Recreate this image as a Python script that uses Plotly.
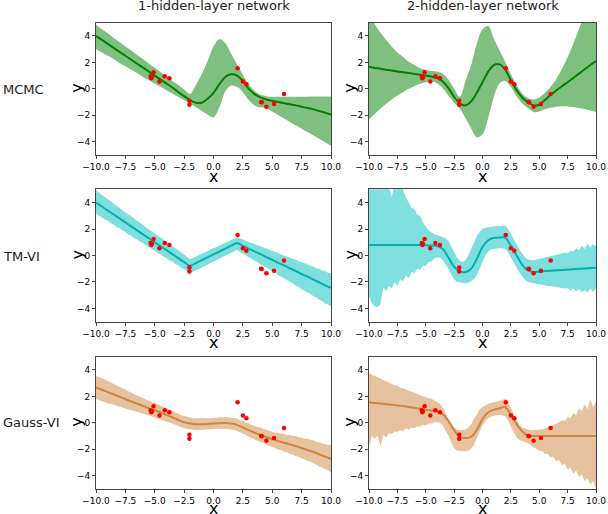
import plotly.graph_objects as go

# sample positions along x (coarse for means / smooth bands, fine for noisy bands)
x_coarse = [-10.0, -9.5, -9.0, -8.5, -8.0, -7.5, -7.0, -6.5, -6.0, -5.5,
            -5.0, -4.5, -4.0, -3.5, -3.0, -2.5, -2.0, -1.5, -1.0, -0.5,
            0.0, 0.5, 1.0, 1.5, 2.0, 2.5, 3.0, 3.5, 4.0, 4.5,
            5.0, 5.5, 6.0, 6.5, 7.0, 7.5, 8.0, 8.5, 9.0, 9.5, 10.0]
x_fine = [-10.0, -9.75, -9.5, -9.25, -9.0, -8.75, -8.5, -8.25, -8.0, -7.75,
          -7.5, -7.25, -7.0, -6.75, -6.5, -6.25, -6.0, -5.75, -5.5, -5.25,
          -5.0, -4.75, -4.5, -4.25, -4.0, -3.75, -3.5, -3.25, -3.0, -2.75,
          -2.5, -2.25, -2.0, -1.75, -1.5, -1.25, -1.0, -0.75, -0.5, -0.25,
          0.0, 0.25, 0.5, 0.75, 1.0, 1.25, 1.5, 1.75, 2.0, 2.25,
          2.5, 2.75, 3.0, 3.25, 3.5, 3.75, 4.0, 4.25, 4.5, 4.75,
          5.0, 5.25, 5.5, 5.75, 6.0, 6.25, 6.5, 6.75, 7.0, 7.25,
          7.5, 7.75, 8.0, 8.25, 8.5, 8.75, 9.0, 9.25, 9.5, 9.75, 10.0]

# training points (same in every panel)
pts_x = [-5.35, -5.3, -5.25, -5.1, -4.6, -4.15, -3.75, -2.05, -2.05,
         2.05, 2.5, 2.8, 4.05, 4.1, 4.5, 5.15, 6.0]
pts_y = [0.95, 0.8, 0.88, 1.25, 0.55, 0.95, 0.8, -0.9, -1.2,
         1.55, 0.55, 0.35, -1.0, -1.02, -1.35, -1.15, -0.38]

# ---- MCMC, 1 hidden layer
mcmc1_mean = [4.0, 3.7, 3.4, 3.1, 2.8, 2.5, 2.2, 1.9, 1.6, 1.3,
              1.0, 0.7, 0.4, 0.1, -0.25, -0.55, -0.85, -1.05, -1.05, -0.75,
              -0.3, 0.35, 0.9, 1.1, 1.0, 0.6, 0.0, -0.4, -0.65, -0.8,
              -0.9, -1.0, -1.08, -1.17, -1.25, -1.35, -1.45, -1.55, -1.68, -1.8, -1.95]
mcmc1_upper = [4.85, 4.5, 4.2, 3.85, 3.55, 3.2, 2.9, 2.55, 2.25, 1.9,
               1.6, 1.25, 0.95, 0.6, 0.3, -0.05, -0.38, 0.3, 1.1, 2.1,
               3.2, 3.75, 3.45, 2.65, 1.85, 1.05, 0.35, -0.15, -0.45, -0.55,
               -0.6, -0.6, -0.6, -0.6, -0.6, -0.59, -0.59, -0.58, -0.58, -0.57, -0.57]
mcmc1_lower = [3.0, 2.75, 2.5, 2.25, 1.95, 1.7, 1.45, 1.2, 0.9, 0.65,
               0.4, 0.15, -0.1, -0.35, -0.6, -0.85, -1.12, -1.4, -1.65, -1.95,
               -2.15, -1.4, -0.2, 0.25, 0.15, -0.25, -0.85, -1.25, -1.4, -1.46,
               -1.72, -1.98, -2.24, -2.5, -2.75, -3.01, -3.27, -3.53, -3.78, -4.04, -4.3]

# ---- MCMC, 2 hidden layers
mcmc2_mean = [1.65, 1.58, 1.52, 1.45, 1.39, 1.32, 1.26, 1.2, 1.13, 1.06,
              1.0, 0.93, 0.82, 0.55, 0.05, -0.6, -1.1, -1.25, -0.95, -0.3,
              0.5, 1.3, 1.8, 1.85, 1.45, 0.65, -0.1, -0.65, -1.0, -1.25,
              -1.2, -0.85, -0.45, -0.13, 0.2, 0.5, 0.82, 1.15, 1.48, 1.8, 2.1]
mcmc2_upper = [5.6, 4.9, 4.25, 3.7, 3.2, 2.75, 2.4, 2.05, 1.8, 1.55,
               1.42, 1.35, 1.3, 1.15, 0.7, 0.0, -0.6, 0.6, 1.8, 3.4,
               4.5, 4.75, 3.8, 2.9, 2.05, 1.1, 0.3, -0.35, -0.7, -0.8,
               -0.65, -0.3, 0.15, 0.75, 1.5, 2.4, 3.4, 4.5, 5.7, 6.9, 8.0]
mcmc2_lower = [-2.3, -1.9, -1.5, -1.15, -0.8, -0.5, -0.25, 0.0, 0.2, 0.38,
               0.5, 0.55, 0.42, 0.05, -0.5, -1.05, -1.5, -2.2, -3.0, -3.65,
               -3.45, -2.2, -0.6, 0.4, 0.6, 0.15, -0.55, -1.1, -1.45, -1.75,
               -1.72, -1.55, -1.42, -1.35, -1.32, -1.33, -1.38, -1.45, -1.53, -1.63, -1.75]

# ---- TM-VI, 1 hidden layer
tm1_mean = [4.0, 3.7, 3.4, 3.1, 2.8, 2.5, 2.2, 1.9, 1.6, 1.3,
            1.0, 0.7, 0.4, 0.1, -0.2, -0.5, -0.78, -0.57, -0.35, -0.13,
            0.08, 0.3, 0.52, 0.74, 0.95, 0.73, 0.52, 0.3, 0.1, -0.12,
            -0.33, -0.55, -0.75, -0.97, -1.18, -1.4, -1.6, -1.82, -2.03, -2.25, -2.45]
tm1_upper = [4.92, 4.72, 4.57, 4.41, 4.24, 4.08, 3.92, 3.74, 3.6, 3.43,
             3.28, 3.1, 2.96, 2.78, 2.64, 2.46, 2.31, 2.14, 1.99, 1.82,
             1.67, 1.49, 1.35, 1.18, 1.04, 0.86, 0.71, 0.54, 0.39, 0.21,
             0.07, -0.11, -0.26, -0.18, -0.06, 0.02, 0.14, 0.22, 0.35, 0.43,
             0.56, 0.63, 0.76, 0.84, 0.97, 1.05, 1.18, 1.25, 1.38, 1.28,
             1.22, 1.1, 1.04, 0.94, 0.87, 0.77, 0.7, 0.6, 0.53, 0.43,
             0.36, 0.26, 0.18, 0.08, 0.01, -0.09, -0.15, -0.26, -0.32, -0.44,
             -0.5, -0.61, -0.67, -0.79, -0.84, -0.96, -1.01, -1.13, -1.18, -1.3, -1.34]
tm1_lower = [3.17, 3.0, 2.9, 2.71, 2.62, 2.43, 2.34, 2.15, 2.06, 1.88,
             1.78, 1.59, 1.5, 1.31, 1.22, 1.03, 0.94, 0.75, 0.66, 0.47,
             0.38, 0.19, 0.1, -0.09, -0.18, -0.37, -0.46, -0.65, -0.74, -0.93,
             -1.02, -1.21, -1.32, -1.22, -1.13, -1.0, -0.91, -0.78, -0.69, -0.56,
             -0.47, -0.34, -0.25, -0.12, -0.03, 0.1, 0.19, 0.32, 0.42, 0.29,
             0.14, 0.03, -0.13, -0.23, -0.4, -0.5, -0.67, -0.77, -0.94, -1.04,
             -1.2, -1.3, -1.47, -1.57, -1.74, -1.84, -2.0, -2.1, -2.28, -2.37,
             -2.54, -2.64, -2.8, -2.9, -3.08, -3.17, -3.35, -3.44, -3.62, -3.7, -3.85]

# ---- TM-VI, 2 hidden layers
tm2_mean = [0.8, 0.8, 0.8, 0.8, 0.8, 0.8, 0.8, 0.8, 0.79, 0.79,
            0.78, 0.76, 0.72, 0.5, -0.15, -0.85, -1.2, -1.25, -1.0, -0.25,
            0.65, 1.15, 1.33, 1.36, 1.35, 0.75, 0.0, -0.7, -1.12, -1.25,
            -1.22, -1.18, -1.15, -1.12, -1.1, -1.07, -1.04, -1.01, -0.98, -0.95, -0.92]
tm2_upper = [5.5, 5.5, 5.5, 5.5, 5.5, 5.5, 5.5, 5.2, 4.4, 5.5,
             5.3, 5.5, 4.9, 4.4, 4.0, 3.6, 3.5, 3.1, 3.0, 2.5,
             2.2, 1.9, 1.75, 1.6, 1.55, 1.45, 1.4, 1.3, 1.1, 0.7,
             0.25, -0.15, -0.4, -0.5, -0.35, 0.0, 0.5, 1.0, 1.45, 1.8,
             2.0, 2.1, 2.15, 2.2, 2.2, 2.22, 2.2, 2.25, 2.25, 2.0,
             1.65, 1.25, 0.85, 0.45, 0.1, -0.15, -0.3, -0.35, -0.35, -0.3,
             -0.25, -0.2, -0.15, -0.1, -0.1, -0.05, 0.0, 0.05, 0.1, 0.2,
             0.15, 0.35, 0.3, 0.55, 0.4, 0.75, 0.5, 0.9, 0.6, 0.85, 0.7]
tm2_lower = [-3.1, -3.6, -3.85, -3.9, -3.7, -2.4, -2.7, -2.3, -2.5, -2.0,
             -2.3, -1.8, -1.95, -1.5, -1.7, -1.25, -1.35, -1.0, -1.1, -0.75,
             -0.8, -0.5, -0.45, -0.22, -0.15, -0.15, -0.35, -0.65, -1.0, -1.45,
             -1.8, -2.0, -2.05, -2.1, -2.1, -2.05, -1.95, -1.8, -1.5, -1.0,
             -0.5, 0.0, 0.3, 0.45, 0.5, 0.55, 0.55, 0.55, 0.5, 0.25,
             -0.1, -0.5, -0.9, -1.3, -1.6, -1.85, -2.0, -2.05, -2.1, -2.15,
             -2.2, -2.2, -2.25, -2.3, -2.3, -2.35, -2.4, -2.4, -2.45, -2.5,
             -2.45, -2.65, -2.5, -2.7, -2.55, -2.75, -2.6, -2.8, -2.5, -2.75, -2.45]

# ---- Gauss-VI, 1 hidden layer
gauss1_mean = [2.65, 2.5, 2.32, 2.15, 1.98, 1.8, 1.62, 1.45, 1.28, 1.1,
               0.95, 0.78, 0.6, 0.42, 0.22, 0.05, -0.05, -0.1, -0.1, -0.08,
               -0.05, -0.03, -0.02, -0.05, -0.15, -0.35, -0.55, -0.75, -0.92, -1.08,
               -1.25, -1.38, -1.5, -1.63, -1.76, -1.9, -2.05, -2.2, -2.38, -2.55, -2.72]
gauss1_upper = [3.55, 3.48, 3.38, 3.27, 3.16, 3.02, 2.95, 2.81, 2.74, 2.63,
                2.52, 2.37, 2.3, 2.16, 2.09, 1.95, 1.88, 1.74, 1.68, 1.56,
                1.52, 1.4, 1.33, 1.2, 1.13, 1.0, 0.93, 0.79, 0.71, 0.58,
                0.52, 0.44, 0.41, 0.35, 0.35, 0.32, 0.35, 0.32, 0.36, 0.34,
                0.39, 0.37, 0.42, 0.4, 0.44, 0.4, 0.41, 0.35, 0.33, 0.2,
                0.15, 0.02, -0.03, -0.16, -0.21, -0.33, -0.36, -0.47, -0.5, -0.62,
                -0.65, -0.74, -0.74, -0.82, -0.82, -0.91, -0.91, -1.0, -1.0, -1.09,
                -1.1, -1.19, -1.21, -1.3, -1.32, -1.43, -1.46, -1.56, -1.59, -1.68, -1.7]
gauss1_lower = [1.8, 1.72, 1.62, 1.55, 1.48, 1.45, 1.35, 1.3, 1.22, 1.16,
                1.08, 1.05, 0.95, 0.92, 0.82, 0.78, 0.7, 0.64, 0.55, 0.5,
                0.4, 0.34, 0.24, 0.18, 0.08, 0.02, -0.08, -0.15, -0.26, -0.32,
                -0.41, -0.46, -0.5, -0.53, -0.55, -0.52, -0.54, -0.5, -0.51, -0.48,
                -0.48, -0.45, -0.47, -0.44, -0.47, -0.46, -0.51, -0.53, -0.62, -0.7,
                -0.84, -0.92, -1.06, -1.14, -1.28, -1.35, -1.47, -1.53, -1.65, -1.72,
                -1.84, -1.9, -2.02, -2.06, -2.18, -2.23, -2.35, -2.4, -2.52, -2.57,
                -2.7, -2.75, -2.89, -2.94, -3.08, -3.15, -3.3, -3.36, -3.51, -3.58, -3.75]

# ---- Gauss-VI, 2 hidden layers
gauss2_mean = [1.55, 1.5, 1.46, 1.41, 1.36, 1.32, 1.27, 1.2, 1.14, 1.06,
               0.98, 0.92, 0.85, 0.65, 0.15, -0.55, -1.05, -1.15, -1.05, -0.55,
               0.3, 0.8, 1.0, 1.1, 1.2, 0.6, -0.1, -0.65, -0.95, -1.0,
               -1.0, -1.0, -1.0, -1.0, -1.0, -1.0, -1.0, -1.0, -1.0, -1.0, -1.0]
gauss2_upper = [3.75, 3.65, 3.6, 3.45, 3.4, 3.25, 3.2, 3.05, 3.0, 2.85,
                2.82, 2.68, 2.62, 2.52, 2.48, 2.35, 2.3, 2.18, 2.12, 2.0,
                1.95, 1.85, 1.82, 1.7, 1.62, 1.45, 1.15, 0.75, 0.3, -0.1,
                -0.35, -0.5, -0.55, -0.55, -0.5, -0.35, -0.1, 0.3, 0.7, 1.0,
                1.2, 1.35, 1.45, 1.5, 1.55, 1.6, 1.65, 1.72, 1.85, 1.6,
                1.1, 0.65, 0.2, -0.15, -0.35, -0.45, -0.52, -0.55, -0.55, -0.55,
                -0.52, -0.5, -0.45, -0.35, -0.3, -0.2, -0.05, 0.05, 0.2, 0.15,
                0.45, 0.35, 0.75, 0.6, 1.1, 0.85, 1.4, 1.0, 1.8, 1.2, 1.6]
gauss2_lower = [-1.8, -1.0, -1.2, -0.95, -1.8, -0.9, -1.1, -0.8, -0.85, -0.65,
                -0.7, -0.55, -0.6, -0.45, -0.5, -0.35, -0.4, -0.25, -0.3, -0.15,
                -0.2, -0.05, -0.05, 0.05, 0.05, 0.0, -0.2, -0.55, -0.95, -1.5,
                -1.9, -2.1, -2.15, -2.15, -2.15, -2.1, -1.95, -1.65, -1.15, -0.6,
                -0.2, 0.1, 0.35, 0.48, 0.55, 0.58, 0.6, 0.58, 0.5, 0.2,
                -0.3, -0.75, -1.1, -1.3, -1.38, -1.45, -1.55, -1.7, -1.85, -1.95,
                -2.1, -2.15, -2.35, -2.35, -2.6, -2.55, -2.9, -2.8, -3.2, -3.1,
                -3.55, -3.35, -3.85, -3.6, -4.1, -3.9, -4.4, -4.2, -4.7, -4.4, -5.0]

col_titles = ["1-hidden-layer network", "2-hidden-layer network"]
row_titles = ["MCMC", "TM-VI", "Gauss-VI"]

# (band x, upper, lower, mean, line colour, fill colour, smooth?)
panels = [
    (x_coarse, mcmc1_upper, mcmc1_lower, mcmc1_mean, "#008000", "rgba(0,128,0,0.5)", True),
    (x_coarse, mcmc2_upper, mcmc2_lower, mcmc2_mean, "#008000", "rgba(0,128,0,0.5)", True),
    (x_fine, tm1_upper, tm1_lower, tm1_mean, "#00b0b0", "rgba(0,191,191,0.5)", False),
    (x_fine, tm2_upper, tm2_lower, tm2_mean, "#00b0b0", "rgba(0,191,191,0.5)", False),
    (x_fine, gauss1_upper, gauss1_lower, gauss1_mean, "#cd853f", "rgba(205,133,63,0.5)", False),
    (x_fine, gauss2_upper, gauss2_lower, gauss2_mean, "#cd853f", "rgba(205,133,63,0.5)", False),
]

W, H = 608, 514
col_px = [(96, 331), (369, 596)]
row_px = [(22.7, 155), (189.3, 321.7), (356.7, 489)]
xlabel_gap = [21, 21, 19]


def px(xp):
    return xp / W


def py(yp):
    return 1 - yp / H


fig = go.Figure()
font = "DejaVu Sans"
layout = {}
annotations = []

for i, (bx, up, lo, mean, lc, fc, smooth) in enumerate(panels):
    r, c = divmod(i, 2)
    n = i + 1
    xa = "x" if n == 1 else f"x{n}"
    ya = "y" if n == 1 else f"y{n}"
    shape = "spline" if smooth else "linear"
    fig.add_trace(go.Scatter(x=bx, y=up, mode="lines", line=dict(width=0, shape=shape),
                             xaxis=xa, yaxis=ya, hoverinfo="skip", showlegend=False))
    fig.add_trace(go.Scatter(x=bx, y=lo, mode="lines", line=dict(width=0, shape=shape),
                             fill="tonexty", fillcolor=fc,
                             xaxis=xa, yaxis=ya, hoverinfo="skip", showlegend=False))
    fig.add_trace(go.Scatter(x=x_coarse, y=mean, mode="lines",
                             line=dict(color=lc, width=2, shape="spline", smoothing=0.8),
                             xaxis=xa, yaxis=ya, showlegend=False))
    fig.add_trace(go.Scatter(x=pts_x, y=pts_y, mode="markers",
                             marker=dict(color="red", size=4.5),
                             xaxis=xa, yaxis=ya, showlegend=False))

    x0, x1 = col_px[c]
    t, b = row_px[r]
    axis_common = dict(showline=True, mirror=True, linecolor="#444", linewidth=1,
                       showgrid=False, zeroline=False, ticks="outside", ticklen=3,
                       tickcolor="#444", automargin=False,
                       tickfont=dict(family=font, size=9, color="black"))
    layout["xaxis" if n == 1 else f"xaxis{n}"] = dict(
        domain=[px(x0), px(x1)], anchor=ya, range=[-10, 10],
        tickmode="array", tickvals=[-10, -7.5, -5, -2.5, 0, 2.5, 5, 7.5, 10],
        tickformat=".1f", **axis_common)
    layout["yaxis" if n == 1 else f"yaxis{n}"] = dict(
        domain=[py(b), py(t)], anchor=xa, range=[-5, 5],
        tickmode="array", tickvals=[-4, -2, 0, 2, 4], **axis_common)

    # axis titles as annotations so they sit where the reference has them
    annotations.append(dict(text="x", x=px((x0 + x1) / 2), y=py(b + xlabel_gap[r]),
                            xref="paper", yref="paper", showarrow=False,
                            xanchor="center", yanchor="middle",
                            font=dict(family=font, size=16, color="black")))
    annotations.append(dict(text="y", x=px(x0 - 19), y=py((t + b) / 2),
                            xref="paper", yref="paper", showarrow=False, textangle=-90,
                            xanchor="center", yanchor="middle",
                            font=dict(family=font, size=16, color="black")))

for c, txt in enumerate(col_titles):
    x0, x1 = col_px[c]
    annotations.append(dict(text=txt, x=px((x0 + x1) / 2), y=py(5.5),
                            xref="paper", yref="paper", showarrow=False,
                            xanchor="center", yanchor="middle",
                            font=dict(family=font, size=13, color="#222")))
for txt, yc in zip(row_titles, [89, 256, 422]):
    annotations.append(dict(text=txt, x=px(1), y=py(yc),
                            xref="paper", yref="paper", showarrow=False,
                            xanchor="left", yanchor="middle",
                            font=dict(family=font, size=13, color="#222")))

fig.update_layout(width=W, height=H, margin=dict(l=0, r=0, t=0, b=0),
                  paper_bgcolor="white", plot_bgcolor="white",
                  font=dict(family=font), annotations=annotations, **layout)

# drop the browser's default 8px body margin so the figure fills the window
fig.write_html("out.html", config={"displayModeBar": False},
               post_script="document.body.style.margin = '0';")
